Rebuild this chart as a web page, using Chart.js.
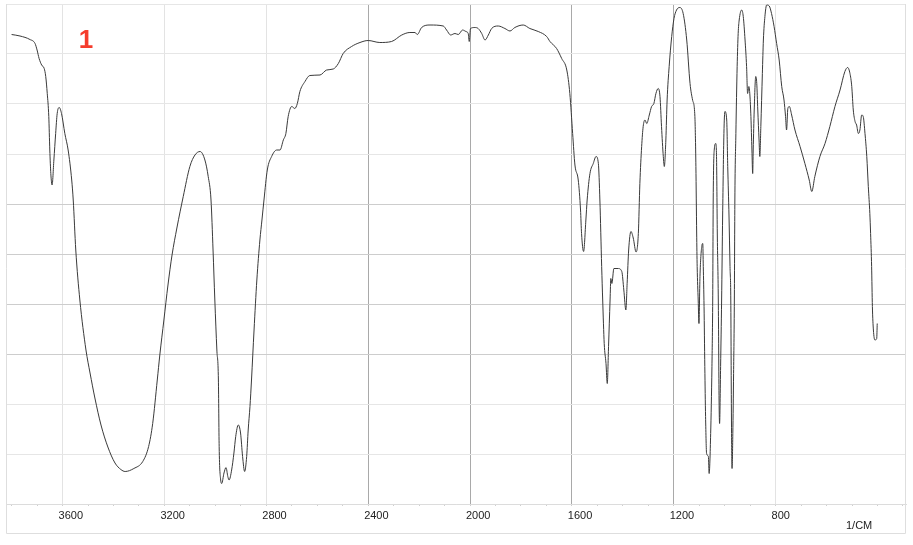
<!DOCTYPE html>
<html><head><meta charset="utf-8">
<script src="https://cdn.jsdelivr.net/npm/chart.js@4/dist/chart.umd.min.js"></script>
<style>html,body{margin:0;padding:0;background:#fff;}#wrap{width:913px;height:545px;}</style>
</head><body><div id="wrap"><canvas id="c" width="913" height="545"></canvas></div>
<script>
// Wavenumber (1/cm) and transmittance
const wavenumber = [3800,3767,3728,3708,3700,3692,3682,3672,3666,3660,3654,3650,3646,3641,3634,3627,3621,3613,3604,3591,3578,3564,3558,3548,3532,3508,3492,3473,3449,3422,3394,3371,3354,3320,3285,3262,3246,3228,3218,3202,3186,3170,3151,3126,3100,3080,3060,3041,3028,3017,3009,3002,2994,2988,2985,2979,2975,2966,2958,2951,2946,2936,2927,2920,2910,2901,2893,2885,2877,2871,2864,2858,2848,2837,2825,2817,2809,2796,2779,2759,2746,2733,2723,2714,2700,2688,2678,2668,2648,2629,2589,2563,2537,2517,2498,2465,2432,2400,2354,2308,2268,2236,2216,2207,2190,2157,2105,2092,2076,2059,2046,2029,2016,2007,2003,1998,1981,1968,1954,1941,1928,1915,1889,1863,1843,1824,1791,1765,1732,1699,1686,1660,1640,1620,1608,1597,1588,1575,1566,1562,1554,1545,1540,1529,1516,1505,1496,1490,1483,1479,1473,1466,1461,1456,1450,1447,1443,1435,1418,1404,1396,1388,1383,1377,1368,1359,1348,1339,1333,1326,1320,1313,1306,1296,1287,1278,1270,1261,1254,1248,1241,1237,1231,1226,1218,1208,1199,1189,1176,1163,1149,1136,1126,1117,1113,1110,1108,1104,1101,1097,1090,1086,1084,1081,1078,1075,1071,1064,1061,1055,1050,1047,1045,1041,1035,1032,1029,1025,1022,1020,1016,1012,1008,1003,999,992,988,983,979,976,973,971,968,965,962,960,956,951,947,943,933,927,920,914,910,905,901,897,893,890,888,884,878,874,870,865,862,858,852,848,842,835,825,816,806,796,786,776,767,761,757,752,746,737,724,704,685,668,658,646,626,606,587,567,547,528,517,508,501,495,488,482,475,469,462,456,449,442,436,430,427,423,420,416,410,403,401];
const transmittance = [93.9,93.6,92.9,92.1,90.8,89.1,87.8,87.1,85.5,82.1,77.5,70.8,66.1,63.8,68.8,74.1,78.1,79.3,78.1,74.1,70.8,64.8,60.8,50.8,40.8,30.8,26.2,21.2,15.8,11.4,8.2,6.9,6.5,7.1,8.5,11.5,16.1,24.8,29.8,36.8,43.8,49.8,55.2,61.5,67.5,69.8,70.5,68.8,65.5,60.8,50.8,40.8,30.8,24.8,11.5,4.8,4.1,6.2,7.3,5.5,4.8,6.8,10.2,13.5,15.8,14.2,9.5,6.5,9.5,14.8,19.5,24.8,34.8,44.8,52.8,56.8,60.8,66.8,69.5,70.8,70.8,72.8,74.1,77.5,79.5,79.1,80.1,82.5,84.5,85.7,85.8,86.8,87.0,88.1,90.1,91.5,92.3,92.7,92.3,92.5,93.8,94.3,94.3,93.9,95.3,95.8,95.6,94.8,93.8,94.1,93.9,94.8,94.5,94.1,92.5,95.1,95.3,95.1,94.1,92.8,93.8,95.1,95.6,95.1,94.6,95.3,95.8,95.1,94.5,93.5,92.5,91.1,89.1,86.8,82.1,74.1,67.8,64.8,58.8,54.1,50.5,56.8,60.8,66.1,68.1,69.5,68.1,60.8,47.5,40.8,32.1,28.1,24.1,31.5,40.8,45.1,44.1,47.1,47.1,46.5,42.8,38.8,44.1,50.8,54.5,53.2,50.4,54.1,64.1,71.5,75.5,76.8,76.1,77.8,79.5,80.1,82.1,83.1,81.5,75.5,69.5,67.5,72.8,80.8,87.5,93.5,97.1,98.8,99.3,98.1,92.8,84.1,80.8,77.5,67.5,54.2,47.5,40.8,36.1,45.5,51.5,52.1,47.5,39.5,27.5,17.5,10.1,9.5,6.1,14.1,27.5,40.8,60.8,70.8,72.1,69.5,54.2,40.8,20.8,16.1,27.5,40.8,57.6,74.1,78.5,76.8,67.5,57.6,47.5,40.8,14.1,7.1,14.1,26.1,40.8,60.8,74.1,87.5,94.1,96.8,98.8,97.5,92.8,87.5,82.1,83.5,81.8,77.5,70.8,66.1,70.8,78.8,85.5,84.1,78.8,72.8,69.5,75.5,86.1,92.8,97.5,99.8,99.6,98.1,95.5,92.1,88.8,83.5,80.8,77.5,74.8,79.1,79.5,77.8,74.8,71.5,68.1,64.8,62.5,65.5,69.5,72.1,75.5,79.5,82.8,86.5,87.3,86.1,83.5,78.8,76.5,75.8,74.1,74.8,77.8,77.5,74.1,69.5,63.5,58.1,54.1,47.5,39.5,34.8,32.8,33.1,36.1];

// Axis ticks
const minorTicks = [3800,3700,3600,3500,3400,3300,3200,3100,3000,2900,2800,2700,2600,2500,2400,2300,2200,2100,2000,1900,1800,1700,1600,1500,1400,1300,1200,1100,1000,900,800,700,600,500,400,300];
const tickLabels = [3600,3200,2800,2400,2000,1600,1200,800];
const darkXGrid = [2400,2000,1600,1200];
const yTicks = [0,10,20,30,40,50,60,70,80,90,100];
const darkYGrid = [30,40,50,60];
const axisUnit = '1/CM';
const panelLabel = '1';

const points = wavenumber.map((w, i) => ({x: w, y: transmittance[i]}));

const decorPlugin = {
  id: 'decor',
  beforeDraw(chart) {
    const ctx = chart.ctx;
    ctx.save();
    ctx.fillStyle = '#ffffff';
    ctx.fillRect(0, 0, chart.width, chart.height);
    ctx.restore();
  },
  beforeDatasetsDraw(chart) {
    const ctx = chart.ctx;
    const a = chart.chartArea;
    ctx.save();
    ctx.strokeStyle = '#dedede';
    ctx.lineWidth = 1;
    ctx.beginPath();
    ctx.moveTo(a.left + 0.5, a.top);
    ctx.lineTo(a.left + 0.5, 533.5);
    ctx.lineTo(a.right - 0.5, 533.5);
    ctx.lineTo(a.right - 0.5, a.top);
    ctx.stroke();
    ctx.restore();
  },
  afterDraw(chart) {
    const ctx = chart.ctx;
    ctx.save();
    ctx.fillStyle = '#222222';
    ctx.font = '11px "Liberation Sans", Arial, sans-serif';
    ctx.textAlign = 'left';
    ctx.textBaseline = 'middle';
    ctx.fillText(axisUnit, 846, 526);
    ctx.fillStyle = '#f53c2c';
    ctx.font = 'bold 26px "Liberation Sans", Arial, sans-serif';
    ctx.textAlign = 'center';
    ctx.textBaseline = 'alphabetic';
    ctx.fillText(panelLabel, 86, 48);
    ctx.restore();
  }
};

new Chart(document.getElementById('c'), {
  type: 'line',
  data: {
    datasets: [{
      data: points,
      borderColor: '#3a3a3a',
      borderWidth: 1,
      pointRadius: 0,
      fill: false,
      cubicInterpolationMode: 'monotone'
    }]
  },
  options: {
    responsive: false,
    animation: false,
    devicePixelRatio: 1,
    layout: {padding: {left: 6, right: 7, top: 4, bottom: 0}},
    plugins: {legend: {display: false}, tooltip: {enabled: false}},
    scales: {
      x: {
        type: 'linear',
        reverse: true,
        min: 288,
        max: 3822,
        afterBuildTicks(s) { s.ticks = minorTicks.map(v => ({value: v})); },
        afterFit(s) { s.height = 41; },
        ticks: {
          autoSkip: false,
          maxRotation: 0,
          align: 'start',
          labelOffset: -4,
          padding: 3,
          color: '#222222',
          font: {family: '"Liberation Sans", Arial, sans-serif', size: 11},
          callback: (v) => tickLabels.includes(v) ? String(v) : ''
        },
        grid: {
          color: (c) => {
            const v = c.tick ? c.tick.value : null;
            if (v !== null && tickLabels.includes(v)) return darkXGrid.includes(v) ? '#a9a9a9' : '#e3e3e3';
            return 'rgba(0,0,0,0)';
          },
          tickColor: '#cfcfcf',
          tickLength: 2,
          lineWidth: 1
        },
        border: {display: true, color: '#dcdcdc'}
      },
      y: {
        min: 0,
        max: 100,
        afterBuildTicks(s) { s.ticks = yTicks.map(v => ({value: v})); },
        afterFit(s) { s.width = 0; },
        ticks: {display: false},
        grid: {
          drawTicks: false,
          color: (c) => {
            const v = c.tick ? c.tick.value : null;
            return darkYGrid.includes(v) ? '#cdcdcd' : '#e6e6e6';
          },
          lineWidth: 1
        },
        border: {display: false}
      }
    }
  },
  plugins: [decorPlugin]
});
</script>
</body></html>
